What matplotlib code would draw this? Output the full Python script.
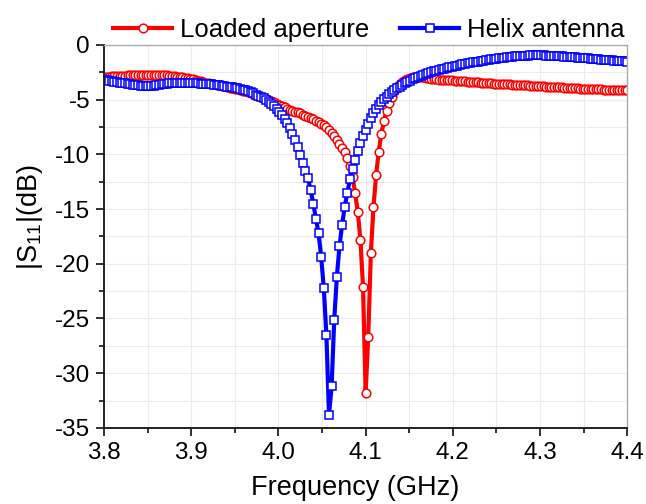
import matplotlib
matplotlib.use("Agg")
import matplotlib.pyplot as plt
import numpy as np
from matplotlib.ticker import MultipleLocator

# frequency grid of the measurement, 3 MHz step (GHz)
freq = np.round(np.arange(201) * 0.003 + 3.8, 3)

# |S11| in dB
loaded_aperture = [
    -2.95, -2.93, -2.91, -2.89, -2.87, -2.85, -2.83, -2.82, -2.81, -2.80,
    -2.79, -2.78, -2.77, -2.76, -2.75, -2.74, -2.73, -2.73, -2.72, -2.72,
    -2.72, -2.73, -2.74, -2.76, -2.78, -2.81, -2.84, -2.87, -2.90, -2.93,
    -2.97, -3.01, -3.06, -3.11, -3.16, -3.22, -3.28, -3.34, -3.40, -3.45,
    -3.50, -3.55, -3.60, -3.65, -3.70, -3.75, -3.80, -3.86, -3.91, -3.97,
    -4.02, -4.07, -4.12, -4.19, -4.26, -4.33, -4.41, -4.49, -4.57, -4.65,
    -4.73, -4.82, -4.92, -5.02, -5.13, -5.25, -5.37, -5.50, -5.62, -5.72,
    -5.82, -5.91, -6.00, -6.09, -6.18, -6.27, -6.37, -6.47, -6.57, -6.68,
    -6.80, -6.92, -7.05, -7.20, -7.36, -7.55, -7.78, -8.05, -8.35, -8.70,
    -9.05, -9.40, -9.80, -10.30, -11.05, -12.10, -13.55, -15.30, -17.80, -22.10,
    -31.80, -26.70, -19.00, -14.80, -11.90, -9.75, -8.10, -7.00, -6.00, -5.30,
    -4.75, -4.25, -3.85, -3.55, -3.35, -3.20, -3.10, -3.03, -2.98, -2.95,
    -2.94, -2.95, -2.97, -3.00, -3.04, -3.08, -3.12, -3.15, -3.17, -3.19,
    -3.21, -3.22, -3.24, -3.25, -3.27, -3.28, -3.30, -3.31, -3.33, -3.35,
    -3.37, -3.39, -3.41, -3.43, -3.45, -3.47, -3.49, -3.51, -3.53, -3.55,
    -3.57, -3.58, -3.59, -3.60, -3.61, -3.62, -3.63, -3.64, -3.65, -3.66,
    -3.68, -3.69, -3.70, -3.72, -3.73, -3.75, -3.76, -3.78, -3.79, -3.81,
    -3.82, -3.84, -3.85, -3.87, -3.88, -3.89, -3.91, -3.92, -3.93, -3.95,
    -3.96, -3.97, -3.99, -4.00, -4.01, -4.02, -4.03, -4.04, -4.05, -4.06,
    -4.07, -4.08, -4.09, -4.10, -4.11, -4.12, -4.13, -4.14, -4.15, -4.16,
    -4.17,
]

helix_antenna = [
    -3.20, -3.24, -3.28, -3.32, -3.36, -3.40, -3.44, -3.48, -3.52, -3.56,
    -3.60, -3.64, -3.68, -3.71, -3.73, -3.74, -3.75, -3.75, -3.74, -3.72,
    -3.69, -3.66, -3.62, -3.58, -3.55, -3.53, -3.51, -3.50, -3.49, -3.48,
    -3.48, -3.48, -3.48, -3.49, -3.50, -3.51, -3.52, -3.54, -3.56, -3.58,
    -3.60, -3.62, -3.65, -3.68, -3.71, -3.74, -3.77, -3.81, -3.85, -3.89,
    -3.93, -3.98, -4.04, -4.10, -4.17, -4.25, -4.34, -4.44, -4.55, -4.66,
    -4.75, -4.90, -5.06, -5.23, -5.42, -5.62, -5.85, -6.10, -6.40, -6.75,
    -7.15, -7.60, -8.15, -8.70, -9.35, -10.05, -10.80, -11.50, -12.20, -13.30,
    -14.50, -15.90, -17.20, -19.35, -22.20, -26.50, -33.80, -31.20, -25.10, -21.20,
    -18.40, -16.45, -14.80, -13.50, -12.30, -11.30, -10.50, -9.70, -9.00, -8.35,
    -7.75, -7.20, -6.70, -6.25, -5.85, -5.52, -5.24, -4.98, -4.75, -4.53,
    -4.33, -4.15, -3.98, -3.82, -3.67, -3.53, -3.40, -3.27, -3.15, -3.04,
    -2.94, -2.84, -2.75, -2.66, -2.58, -2.50, -2.43, -2.36, -2.29, -2.23,
    -2.17, -2.11, -2.05, -2.00, -1.94, -1.89, -1.84, -1.79, -1.74, -1.70,
    -1.65, -1.61, -1.57, -1.53, -1.49, -1.45, -1.41, -1.37, -1.33, -1.30,
    -1.26, -1.23, -1.20, -1.17, -1.14, -1.11, -1.08, -1.06, -1.04, -1.02,
    -1.00, -0.99, -0.98, -0.97, -0.96, -0.96, -0.96, -0.96, -0.97, -0.98,
    -0.99, -1.00, -1.01, -1.02, -1.04, -1.05, -1.07, -1.08, -1.10, -1.12,
    -1.14, -1.16, -1.18, -1.20, -1.22, -1.24, -1.26, -1.28, -1.30, -1.32,
    -1.34, -1.36, -1.38, -1.40, -1.42, -1.44, -1.46, -1.48, -1.50, -1.52,
    -1.54,
]

x_ticks = [3.8, 3.9, 4.0, 4.1, 4.2, 4.3, 4.4]
y_ticks = [0, -5, -10, -15, -20, -25, -30, -35]

plt.rcParams["font.family"] = ["Liberation Sans", "DejaVu Sans"]
plt.rcParams["mathtext.default"] = "regular"

fig = plt.figure(figsize=(6.46, 5.04), dpi=100)
ax = fig.add_axes([0.161, 0.151, 0.810, 0.760])

ax.plot(freq, loaded_aperture, color="#ff0000", lw=3.0, marker="o", ms=6.2,
        mfc="white", mec="#ff0000", mew=1.1, label="Loaded aperture")
ax.plot(freq, helix_antenna, color="#0000ff", lw=3.0, marker="s", ms=5.6,
        mfc="white", mec="#0000ff", mew=1.1, label="Helix antenna")

ax.set_xlim(3.8, 4.4)
ax.set_ylim(-35, 0)
ax.set_xticks(x_ticks)
ax.set_yticks(y_ticks)
ax.xaxis.set_minor_locator(MultipleLocator(0.05))
ax.yaxis.set_minor_locator(MultipleLocator(2.5))
ax.set_xticklabels([f"{v:.1f}" for v in x_ticks])
ax.set_yticklabels([str(v) for v in y_ticks])

ax.grid(True, which="both", color="#ebebeb", lw=0.8)
ax.set_axisbelow(True)

ax.tick_params(which="both", direction="out", top=False, right=False,
               labelsize=17.5, width=1.3, color="#222222")
ax.tick_params(which="major", length=6, pad=4)
ax.tick_params(which="minor", length=3.5)
for s in ("left", "bottom"):
    ax.spines[s].set_color("#222222")
    ax.spines[s].set_linewidth(1.4)
for s in ("top", "right"):
    ax.spines[s].set_color("#aaaaaa")
    ax.spines[s].set_linewidth(1.0)

ax.set_xlabel("Frequency (GHz)", fontsize=19.5)
ax.set_ylabel("|S$_{11}$|(dB)", fontsize=19.5)
ax.xaxis.set_label_coords(0.48, -0.122)
ax.yaxis.set_label_coords(-0.113, 0.55)

ax.legend(loc="lower center", bbox_to_anchor=(0.506, 0.975), ncol=2,
          frameon=False, fontsize=18.5, handlelength=2.3, handletextpad=0.3,
          columnspacing=1.2, borderaxespad=0.1)

fig.savefig("out.png", dpi=100)
